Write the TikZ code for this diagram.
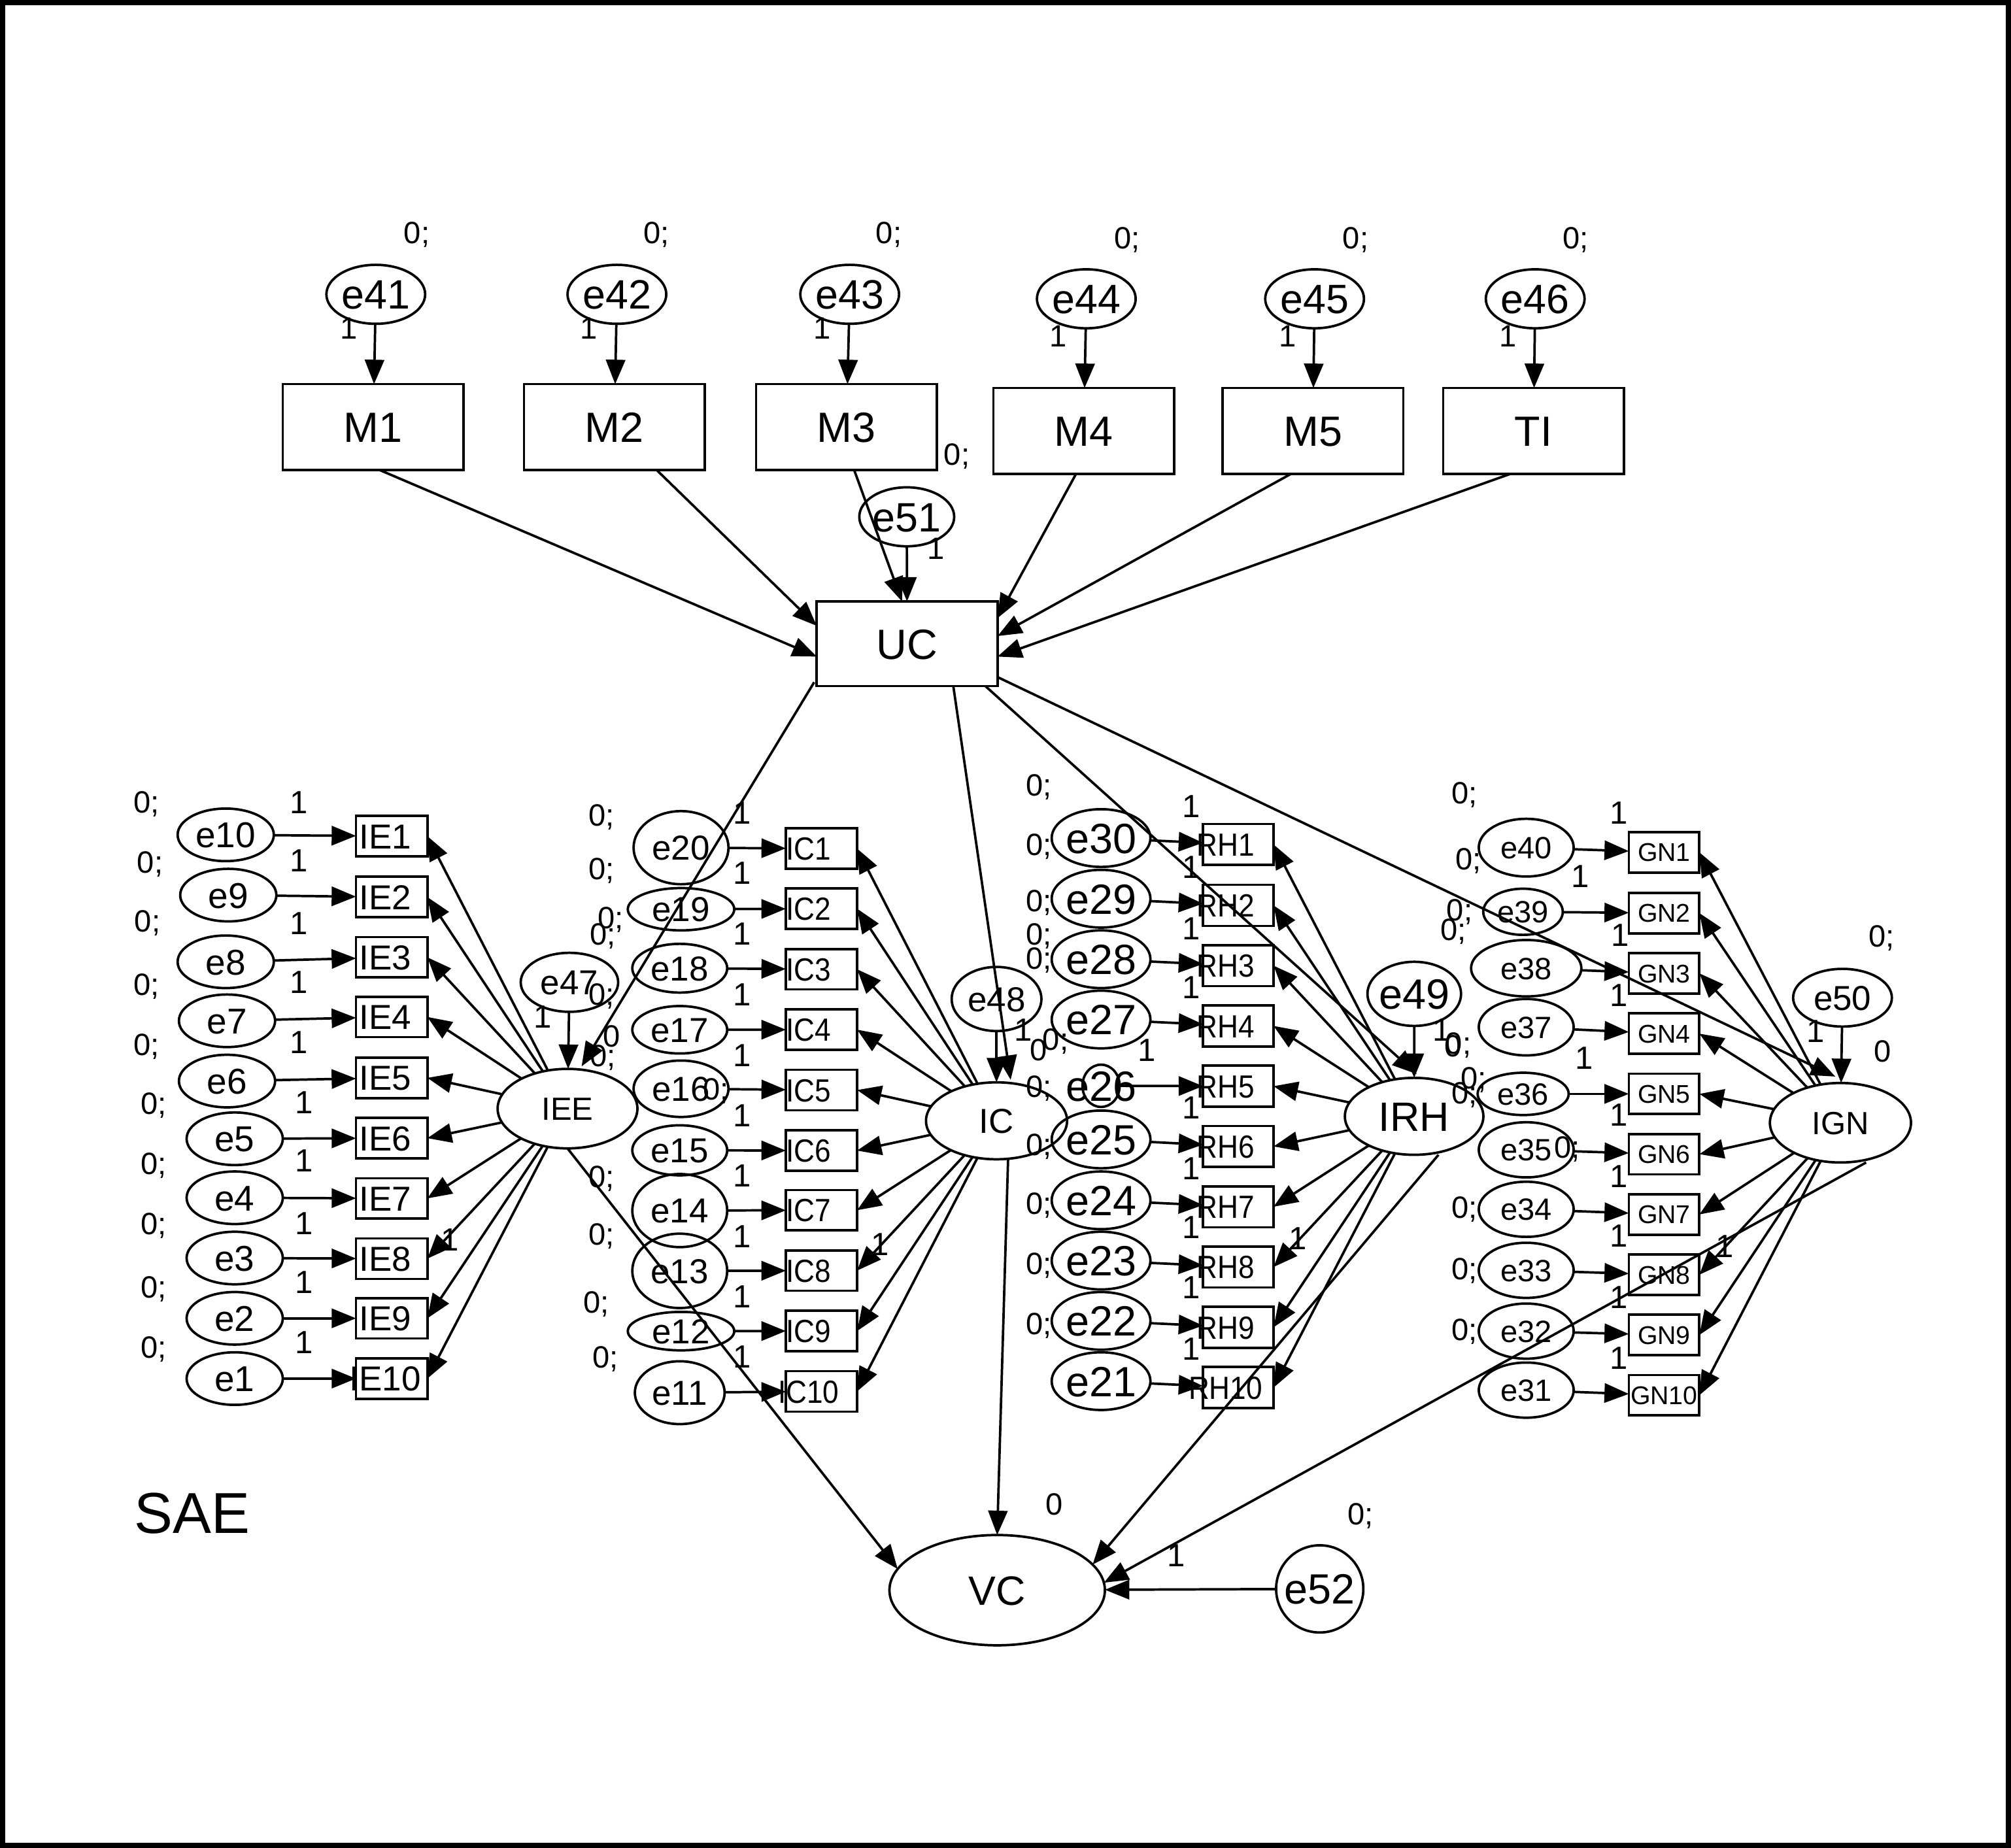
\documentclass[tikz,border=0pt]{standalone}
\usepackage{fontspec}
\setmainfont{Liberation Sans}
\newfontfamily\narrowfont[FakeStretch=0.9]{Liberation Sans}
\usetikzlibrary{shapes.geometric,arrows.meta,calc}
\newcommand\fsz[1]{\fontsize{#1pt}{#1pt}\selectfont}
\newcommand\zw[1]{\makebox[0pt]{\raisebox{-0.36em}[0pt][0pt]{#1}}}
\newcommand\zws[2]{\makebox[0pt]{\raisebox{-0.36em}[0pt][0pt]{#2}\hspace*{#1}}}
\begin{document}
\begin{tikzpicture}[x=1pt,y=-1pt,
  lw/.style={line width=1.9pt},
  obs/.style={draw,lw,rectangle,inner sep=0pt,outer sep=0pt},
  ell/.style={draw,lw,ellipse,inner sep=0pt,outer sep=0pt},
  arr/.style={lw,-{Triangle[length=19pt,width=15pt]}},
  lab/.style={inner sep=0pt,outer sep=0pt,font=\fsz{24}},
  one/.style={inner sep=0pt,outer sep=0pt,font=\fsz{25}}]
\useasboundingbox (0,0) rectangle (1568,1441);
\fill[white] (0,0) rectangle (1568,1441);
\draw[line width=4pt] (2,2) rectangle (1566,1439);

% ---------- top part ----------
\foreach \n/\x/\y/\t in {m1/291/333/M1, m2/479/333/M2, m3/660/333/M3, m4/845/336/M4, m5/1023.6/336/M5, ti/1195.7/336/TI}
  \node[obs,minimum width=141pt,minimum height=67pt,font=\fsz{33}] (\n) at (\x,\y) {\zw{\t}};
\node[obs,minimum width=141pt,minimum height=66pt,font=\fsz{33}] (uc) at (707.3,502) {\zw{UC}};
\foreach \n/\x/\y/\m in {41/293/229.5/m1, 42/481/229.5/m2, 43/662.5/229.5/m3, 44/847/233/m4, 45/1025/233/m5, 46/1197/233/ti}{
  \node[ell,minimum width=77pt,minimum height=46pt,font=\fsz{32}] (e\n) at (\x,\y) {\zw{e\n}};
  \draw[arr] (e\n) -- (\m);
}
\node[ell,minimum width=74pt,minimum height=46pt,font=\fsz{32}] (e51) at (707,403) {\zw{e51}};
\draw[arr] (e51) -- (uc);
\draw[arr] ($(m1.south)+(5,0)$) -- ($(uc.west)+(0,10)$);
\draw[arr] ($(m2.south)+(33,0)$) -- ($(uc.west)+(0,-14)$);
\draw[arr] ($(m3.south)+(6,0)$) -- ($(uc.north)+(-4,0)$);
\draw[arr] ($(m4.south)+(-6,0)$) -- ($(uc.east)+(0,-20)$);
\draw[arr] ($(m5.south)+(-17,0)$) -- ($(uc.east)+(0,-6)$);
\draw[arr] ($(ti.south)+(-18,0)$) -- ($(uc.east)+(0,10)$);
\foreach \x/\y [count=\i] in {325/183, 512/183, 693/183, 879/187, 1057/187, 1228.5/187, 746/356}
  \node[lab] (zt\i) at (\x,\y) {0;};
\foreach \x/\y [count=\i] in {272/256, 459/256, 641/256, 825/262, 1004/262, 1176/262, 729.5/428}
  \node[lab] (ot\i) at (\x,\y) {1};

% ---------- latent variables ----------
\node[ell,minimum width=109pt,minimum height=62pt,font=\fsz{25}] (iee) at (442.5,864.5) {\zw{IEE}};
\node[ell,minimum width=110pt,minimum height=60pt,font=\fsz{27}] (ic) at (777,874) {\zw{IC}};
\node[ell,minimum width=108pt,minimum height=60pt,font=\fsz{32}] (irh) at (1102.6,870.5) {\zw{IRH}};
\node[ell,minimum width=110pt,minimum height=62pt,font=\fsz{25}] (ign) at (1435,875.5) {\zw{IGN}};
\node[ell,minimum width=168pt,minimum height=86pt,font=\fsz{32}] (vc) at (777.5,1240) {\zw{VC}};
\node[ell,minimum width=76pt,minimum height=46pt,font=\fsz{27}] (e47) at (444,766) {\zw{e47}};
\node[ell,minimum width=70pt,minimum height=50pt,font=\fsz{27}] (e48) at (777,779) {\zw{e48}};
\node[ell,minimum width=73pt,minimum height=50pt,font=\fsz{33}] (e49) at (1102.7,775) {\zw{e49}};
\node[ell,minimum width=77pt,minimum height=45pt,font=\fsz{27}] (e50) at (1436.6,778) {\zw{e50}};
\node[ell,minimum width=68pt,minimum height=68pt,font=\fsz{33}] (e52) at (1029,1239) {\zw{e52}};
\draw[arr] (e47) -- (iee);
\draw[arr] (e48) -- (ic);
\draw[arr] (e49) -- (irh);
\draw[arr] (e50) -- (ign);
\draw[arr] (e52) -- (vc);
\draw[arr] ($(uc.south west)+(-2,-3)$) -- ($(iee.north)+(11,-2)$);
\draw[arr] ($(uc.south)+(36,0)$) -- ($(ic.north)+(11,-2)$);
\draw[arr] ($(uc.south)+(61,0)$) -- ($(irh.north)+(2,-3)$);
\draw[arr] ($(uc.east)+(0,26)$) -- ($(ign.north)+(-4,-5)$);
\draw[arr] (iee.south) -- (vc.168);
\draw[arr] ($(ic.south)+(9,0)$) -- (vc.north);
\draw[arr] ($(irh.south)+(19,0)$) -- (vc.15);
\draw[arr] ($(ign.south)+(20,0)$) -- (vc.4);

% ---------- IE column ----------
\foreach \ex/\ey/\by/\zx/\zy/\ox/\oy [count=\i] in {
  176/651/652/114/627/233/626, 178/698/699.5/117/674/233/671,
  176/750/746.5/115/720/233/720, 177/796/793/114/769/233/766,
  177/843/840.5/114/816/233/813, 183/888/887.5/120/862/237/860,
  183/934/934.5/120/909/237/905, 183/981/981.5/120/956/237/954,
  183/1028/1028/120/1005/237/1000, 183/1075/1075/120/1052/237/1047}{
  \pgfmathtruncatemacro\en{11-\i}
  \node[obs,minimum width=55.6pt,minimum height=31.5pt,font=\fsz{27}] (ie\i) at (305.4,\by) {\zws{10pt}{IE\i}};
  \node[ell,minimum width=75pt,minimum height=41pt,font=\fsz{28}] (e\en) at (\ex,\ey) {\zw{e\en}};
  \draw[arr] (e\en) -- (ie\i);
  \draw[arr] (iee) -- (ie\i.east);
  \node[lab] (zie\i) at (\zx,\zy) {0;};
  \node[one] (oie\i) at (\ox,\oy) {1};
}

% ---------- IC column ----------
\foreach \ex/\ey/\w/\h/\by/\oy [count=\i] in {
  531/661/74/57/661.7/634, 531/709/83/33/708.6/681, 530/755/74/38/755.8/728,
  530/803/74/37/802.9/775.5, 531/849/74/44/850/823, 530/897/74/39/897.2/870,
  530/944/74/57/943.7/917, 530/991/74/58/990.8/964, 531/1038/83/30/1037.9/1011,
  530/1086/70/49/1085/1058}{
  \pgfmathtruncatemacro\en{21-\i}
  \node[obs,minimum width=55.6pt,minimum height=31.5pt,font=\narrowfont\fsz{25}] (ic\i) at (640.5,\by) {\zws{20pt}{IC\i}};
  \node[ell,minimum width=\w pt,minimum height=\h pt,font=\fsz{27}] (e\en) at (\ex,\ey) {\zw{e\en}};
  \draw[arr] (e\en) -- (ic\i);
  \draw[arr] (ic) -- (ic\i.east);
  \node[one] (oic\i) at (578.5,\oy) {1};
}
\foreach \x/\y [count=\i] in {469/637, 469/679, 476/717, 470/730, 469/777, 470/825, 558/851, 469/919, 469/964, 465/1017, 472/1060}
  \node[lab] (zic\i) at (\x,\y) {0;};
\node[lab] (zic0) at (477,808) {0};

% ---------- RH column ----------
\foreach \ey/\w/\h/\by/\ox/\oy [count=\i] in {
  653.5/77/45/658.5/929/629, 700.8/77/45/706/929/676, 748/77/45/753/929/724,
  795/77/45/800/929/770, 846.7/29/33/847/894/819, 888.5/77/45/894/929/864,
  936/77/45/941/929/911, 983/77/45/988/929/957, 1030/77/45/1035/929/1004,
  1077/77/45/1082/929/1052}{
  \pgfmathtruncatemacro\en{31-\i}
  \node[obs,minimum width=55pt,minimum height=32pt,font=\narrowfont\fsz{25}] (rh\i) at (965.5,\by) {\zws{20pt}{RH\i}};
  \node[ell,minimum width=\w pt,minimum height=\h pt,font=\fsz{33}] (e\en) at (858.5,\ey) {\zw{e\en}};
  \draw[arr] (e\en) -- (rh\i);
  \draw[arr] (irh) -- (rh\i.east);
  \node[one] (orh\i) at (\ox,\oy) {1};
}
\foreach \x/\y [count=\i] in {810/614, 810/660, 810/704, 810/730, 810/749, 823/812, 810/849, 810/894, 810/940, 810/987, 810/1034}
  \node[lab] (zrh\i) at (\x,\y) {0;};
\node[lab] (zrh0) at (810,819) {0};

% ---------- GN column ----------
\foreach \ex/\ey/\w/\h/\by/\ox/\oy [count=\i] in {
  1190/661/74/45/664.6/1262/634, 1187.5/711/62/36/712/1232/683.6,
  1190/755/86/44/759/1263/729.5, 1190/801/74/44/806/1262/776,
  1187.6/853/71/33/853/1235/825, 1190/896.6/74/43/900/1262/869.6,
  1190/943/74/43/947/1262/917.5, 1190/990.6/74/43/994/1262/963.5,
  1190/1038/74/43/1041/1262/1011.5, 1190/1084/74/43/1088/1262/1059}{
  \pgfmathtruncatemacro\en{41-\i}
  \node[obs,minimum width=55pt,minimum height=31.5pt,font=\fsz{20}] (gn\i) at (1297.5,\by) {\zw{GN\i}};
  \node[ell,minimum width=\w pt,minimum height=\h pt,font=\fsz{24}] (e\en) at (\ex,\ey) {\zw{e\en}};
  \draw[arr] (e\en) -- (gn\i);
  \draw[arr] (ign) -- (gn\i.east);
  \node[one] (ogn\i) at (\ox,\oy) {1};
}
\foreach \x/\y [count=\i] in {1142/620, 1145/671.5, 1138/711, 1133/726.5, 1137/815, 1149/842, 1142/854, 1222/896, 1142/943, 1142/991, 1142/1038.6}
  \node[lab] (zgn\i) at (\x,\y) {0;};
\node[lab] (zgn0) at (1133,815.6) {0};

% ---------- other labels ----------
\node[one] (oa) at (351,967) {1};
\node[one] (ob) at (686,970.5) {1};
\node[one] (oc) at (1012,966) {1};
\node[one] (od) at (1345,972) {1};
\node[one] (o47) at (423,793) {1};
\node[one] (o48) at (798,803) {1};
\node[one] (o49) at (1124,803) {1};
\node[one] (o50) at (1415.5,804) {1};
\node[lab] (z50) at (1467,731.5) {0;};
\node[lab] (zign) at (1468,820) {0};
\node[lab] (zvc) at (822,1173) {0};
\node[lab] (z52) at (1061,1182) {0;};
\node[one] (o52) at (917,1213) {1};
\node[inner sep=0pt,font=\fsz{45}] (sae) at (150,1180) {SAE};
\end{tikzpicture}
\end{document}
